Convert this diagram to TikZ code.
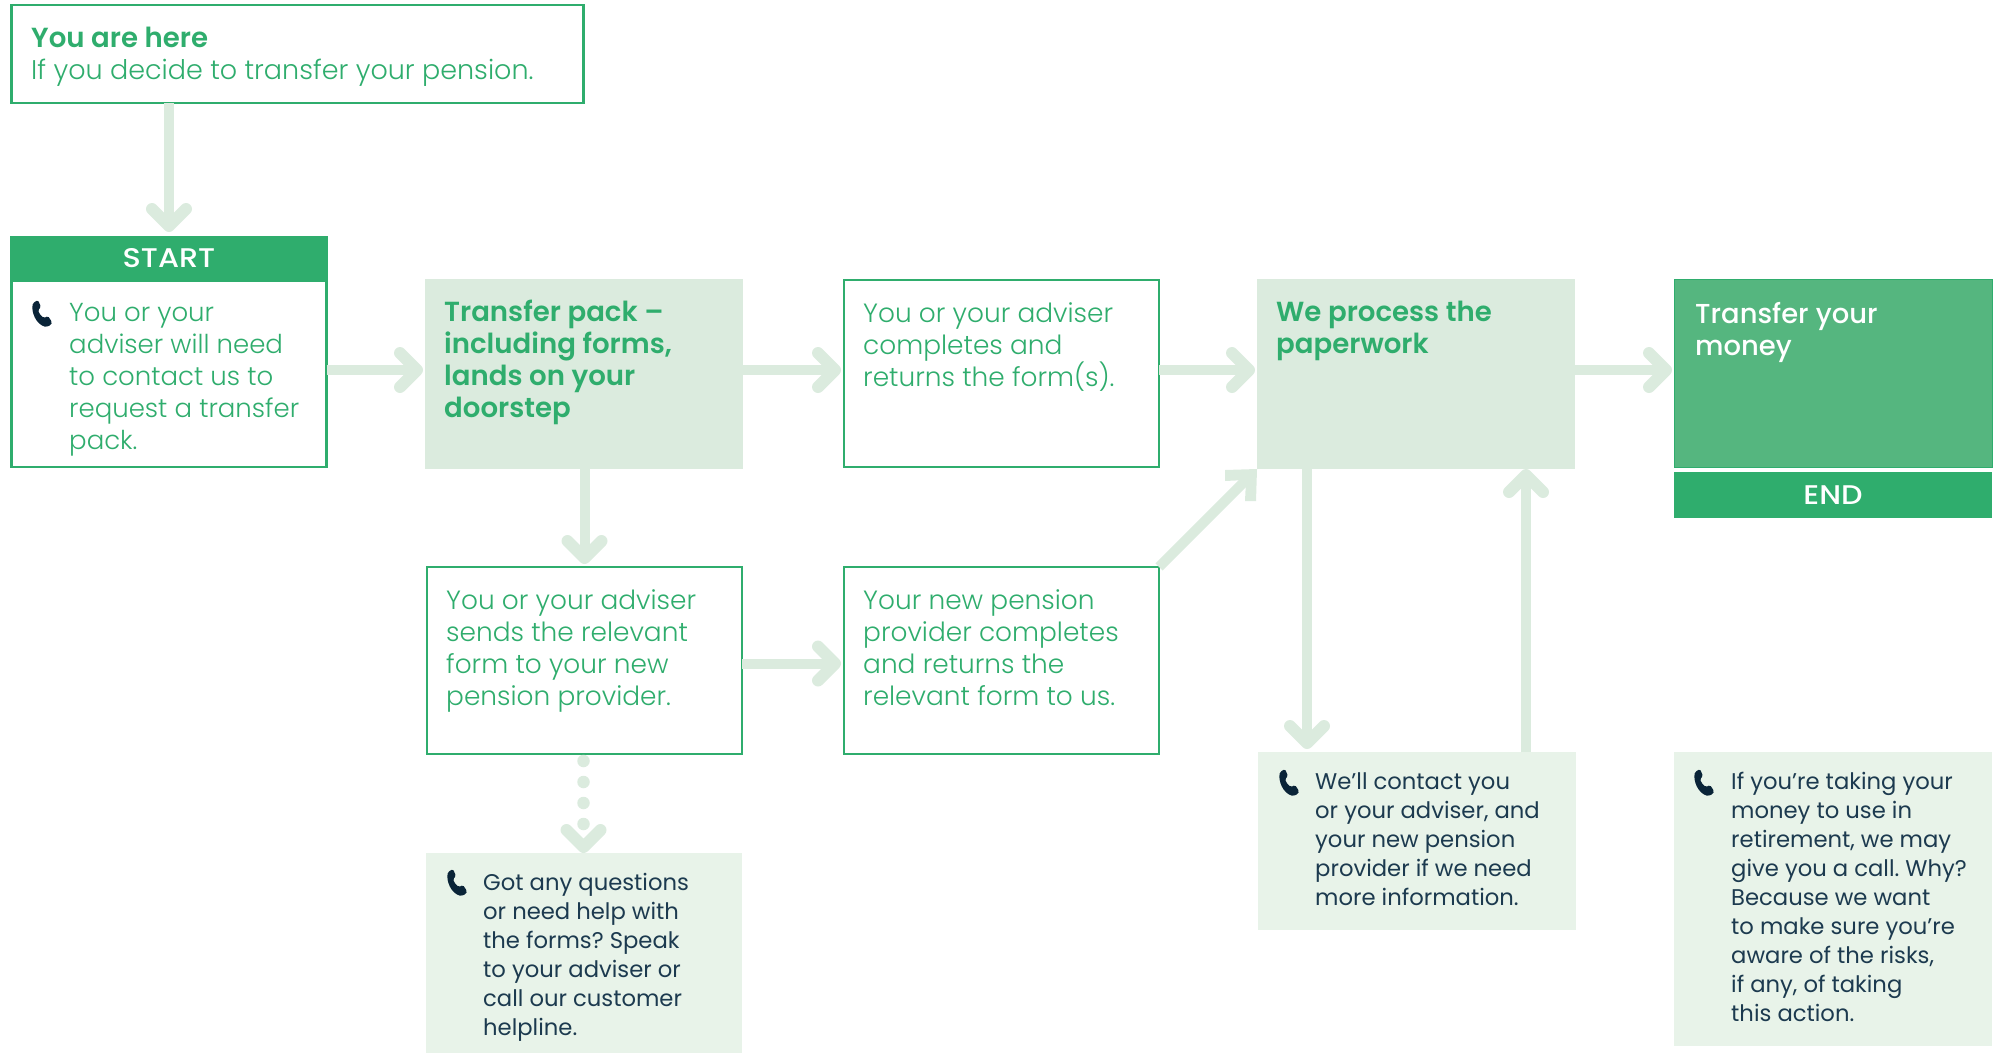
\documentclass[tikz,border=0pt]{standalone}
\usepackage{fontspec}
\setmainfont{Poppins}
\newfontfamily\lightf{Poppins Light}
\newfontfamily\semif{Poppins SemiBold}
\newfontfamily\medf{Poppins Medium}
\newfontfamily\capsf[FakeStretch=1.12]{Poppins Medium}
\usetikzlibrary{arrows.meta}
\definecolor{gr}{HTML}{2FAD6D}
\definecolor{pale}{HTML}{DBEBDE}
\definecolor{paler}{HTML}{E8F3E9}
\definecolor{mid}{HTML}{55B67F}
\definecolor{ink}{HTML}{1C3A4F}
\definecolor{icon}{HTML}{0A2438}
\tikzset{
 x=1pt,y=-1pt,
 rbox/.style={anchor=north west,inner sep=0pt,outer sep=0pt,minimum width=#1},
 outline/.style={rbox=#1,draw=gr,line width=2.5pt,fill=white},
 softbox/.style={rbox=#1,fill=pale},
 notebox/.style={rbox=#1,fill=paler},
 banner/.style={rbox=#1,fill=gr,text=white,font=\capsf\fontsize{27}{32}\selectfont},
 lighttxt/.style={anchor=north west,inner sep=0pt,align=left,text=gr,execute at begin node={\frenchspacing\rule{0pt}{20pt}},font=\lightf\fontsize{26.4}{32}\selectfont},
 boldtxt/.style={anchor=north west,inner sep=0pt,align=left,text=gr,execute at begin node={\rule{0pt}{20pt}},font=\semif\fontsize{27.6}{32}\selectfont},
 whitetxt/.style={anchor=north west,inner sep=0pt,align=left,text=white,execute at begin node={\rule{0pt}{20pt}},font=\medf\fontsize{27.4}{32}\selectfont},
 notetxt/.style={anchor=north west,inner sep=0pt,align=left,text=ink,execute at begin node={\frenchspacing\rule{0pt}{17pt}},font=\fontsize{22.7}{29}\selectfont},
 conn/.style={draw=pale,line width=10pt,-{Straight Barb[length=17pt,width=34pt,line width=12pt,round=false]}},
 dotconn/.style={draw=pale,line width=12.5pt,line cap=round,dash pattern=on 0pt off 21pt},
 phone/.pic={\fill[icon,rounded corners=1.5pt] (1,3) .. controls (-1,12) and (4,24) .. (14,27) -- (19,25) -- (20,22) -- (16,16) -- (12,18) .. controls (9,16) and (7,13) .. (6,10) -- (9,7) -- (6,0) -- cycle;}
}
\begin{document}
\begin{tikzpicture}
\useasboundingbox (0,0) rectangle (1999,1053);
% boxes
\node[outline=572pt,minimum height=98pt] (yah) at (11.5,5) {};
\node[outline=315pt,minimum height=186pt] (startbody) at (11.5,281) {};
\node[banner=318pt,minimum height=46pt] (start) at (10,236) {\raisebox{2.5pt}{START}};
\node[softbox=318pt,minimum height=190pt] (pack) at (425,279) {};
\node[outline=315pt,minimum height=187pt] (done) at (844,280) {};
\node[softbox=318pt,minimum height=190pt] (proc) at (1257,279) {};
\node[rbox=318pt,minimum height=188pt,fill=mid,draw=gr,line width=1pt] (money) at (1674,279) {};
\node[banner=318pt,minimum height=46pt] (endb) at (1674,472) {END};
\node[outline=315pt,minimum height=187pt] (send) at (427,567) {};
\node[outline=315pt,minimum height=187pt] (prov) at (844,567) {};
\node[notebox=316pt,minimum height=200pt] (got) at (426,853) {};
\node[notebox=318pt,minimum height=178pt] (cont) at (1258,752) {};
\node[notebox=318pt,minimum height=294pt] (call) at (1674,752) {};
% connectors
\draw[conn] (start.north |- yah.south) -- ([yshift=4pt]start.north);
\draw[conn] ([yshift=4pt]startbody.east) -- ([xshift=-2pt,yshift=4pt]pack.west);
\draw[conn] ([yshift=4pt]pack.east) -- ([xshift=-3pt,yshift=3.5pt]done.west);
\draw[conn] ([yshift=3.5pt]done.east) -- ([xshift=-2pt,yshift=4pt]proc.west);
\draw[conn] ([yshift=4pt]proc.east) -- ([xshift=-2pt,yshift=3pt]money.west);
\draw[conn] (send.north |- pack.south) -- ([yshift=3pt]send.north);
\draw[conn] ([yshift=-3pt]send.east) -- ([xshift=-3pt,yshift=-3pt]prov.west);
\coordinate (gotTail) at (583.5,845);
\coordinate (gotTip) at (583.5,853);
\draw[conn] (gotTail) -- (gotTip);
\coordinate (dotA) at (583.5,761);
\coordinate (dotB) at (583.5,826);
\draw[dotconn] (dotA) -- (dotB);
\coordinate (procDn) at (1307,469);
\coordinate (contDn) at (1307,749);
\draw[conn] (procDn) -- (contDn);
\coordinate (contUp) at (1526,752);
\coordinate (procUp) at (1526,469);
\draw[conn] (contUp) -- (procUp);
\coordinate (diagEnd) at (1250,476);
\draw[draw=pale,line width=10pt] (prov.north east) -- (diagEnd);
\fill[pale] (proc.south west) -- (1225,470) -- (1225,481) -- (1246,480) -- (1245,501) -- (1256,501) -- cycle;
% text
\node[boldtxt] (t1) at (31,27) {You are here};
\node[lighttxt,font=\lightf\fontsize{27}{32}\selectfont] (t2) at (31,59) {If you decide to transfer your pension.};
\node[lighttxt,font=\lightf\fontsize{26}{32}\selectfont] (t3) at (69,303) {You or your\\adviser will need\\to contact us to\\request a transfer\\pack.};
\node[boldtxt] (t4) at (444,300) {Transfer pack –\\including forms,\\lands on your\\doorstep};
\node[lighttxt] (t5) at (863,302) {You or your adviser\\completes and\\returns the form(s).};
\node[boldtxt] (t6) at (1276,301) {We process the\\paperwork};
\node[whitetxt] (t7) at (1695,302) {Transfer your\\money};
\node[lighttxt] (t8) at (446,589) {You or your adviser\\sends the relevant\\form to your new\\pension provider.};
\node[lighttxt] (t9) at (863,589) {Your new pension\\provider completes\\and returns the\\relevant form to us.};
\node[notetxt] (t10) at (483,873.5) {Got any questions\\or need help with\\the forms? Speak\\to your adviser or\\call our customer\\helpline.};
\node[notetxt] (t11) at (1315,772) {We’ll contact you\\or your adviser, and\\your new pension\\provider if we need\\more information.};
\node[notetxt] (t12) at (1731,771.5) {If you’re taking your\\money to use in\\retirement, we may\\give you a call. Why?\\Because we want\\to make sure you’re\\aware of the risks,\\if any, of taking\\this action.};
\path (32,300) pic {phone} (447,869) pic {phone} (1279,769) pic {phone} (1694,769) pic {phone};
\end{tikzpicture}
\end{document}
